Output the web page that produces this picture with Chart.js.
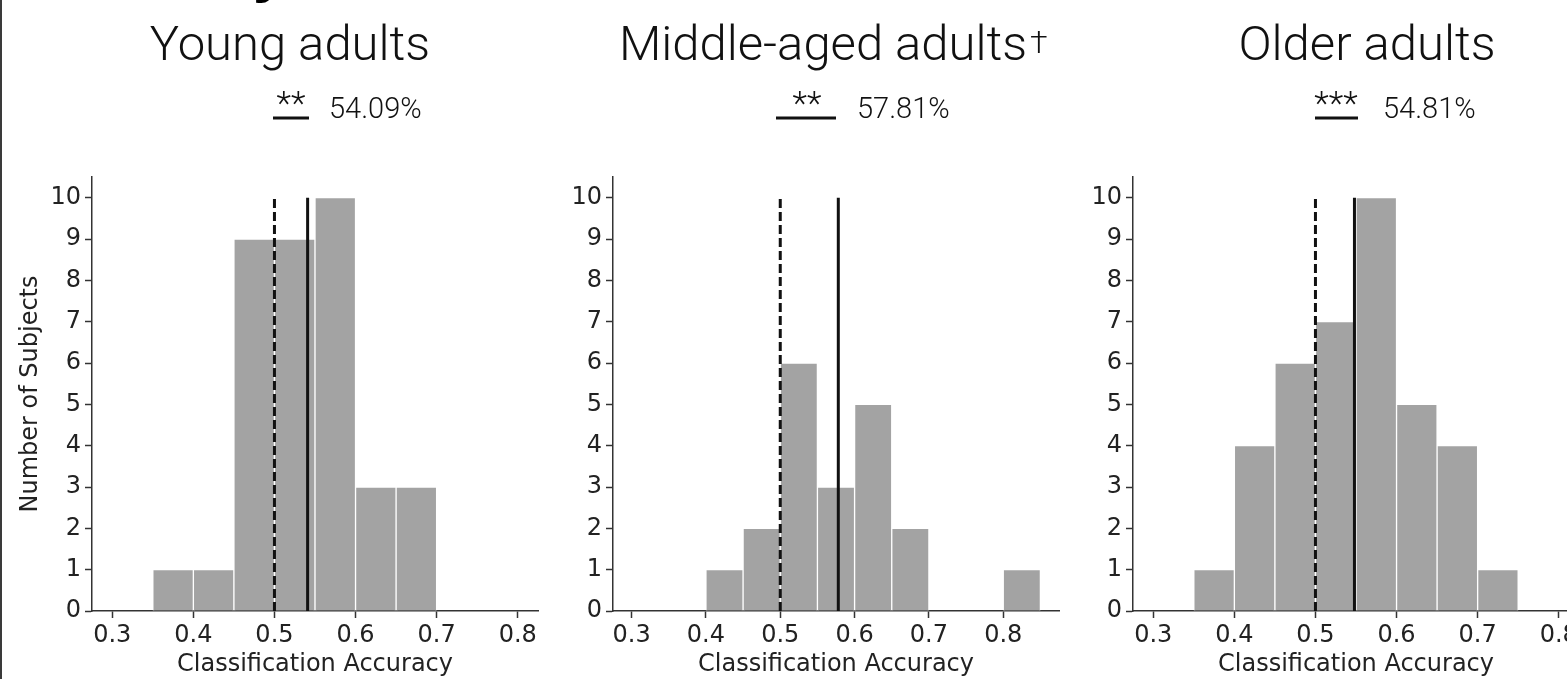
<!DOCTYPE html>
<html><head><meta charset="utf-8">
<script src="https://cdn.jsdelivr.net/npm/chart.js@4/dist/chart.umd.min.js"></script>
<style>
html,body{margin:0;padding:0;background:#fff;}
#wrap{position:relative;width:1567px;height:679px;overflow:hidden;background:#fff;}
#wrap canvas{position:absolute;top:0;}
#edge{position:absolute;left:0;top:0;width:2px;height:679px;background:#3a3a3a;}
</style></head><body>
<div id="wrap">
<canvas id="c1" width="560" height="679" style="left:0px"></canvas>
<canvas id="c2" width="560" height="679" style="left:521px"></canvas>
<canvas id="c3" width="560" height="679" style="left:1041px"></canvas>
<div id="edge"></div>
</div>
<script>
// ---- data ----
const binStarts = [0.30,0.35,0.40,0.45,0.50,0.55,0.60,0.65,0.70,0.75,0.80];
const binWidth = 0.05;
const youngCounts  = [0,1,1,9,9,10,3,3,0,0,0];
const middleCounts = [0,0,1,2,6,3,5,2,0,0,1];
const olderCounts  = [0,1,4,6,7,10,5,4,1,0,0];
const chanceLevel = 0.5;
const meanAccuracy = [0.5409, 0.5781, 0.5481];
const lineTop = 10;
const panelTitles = ['Young adults','Middle-aged adults','Older adults'];
const titleMarks = ['','\u2020',''];
const significance = ['**','**','***'];
const meanLabels = ['54.09%','57.81%','54.81%'];
const xTicks = [0.3,0.4,0.5,0.6,0.7,0.8];
const yTicks = [0,1,2,3,4,5,6,7,8,9,10];
const xMin = 0.275;
const xMaxes = [0.825, 0.875, 0.825];
const yMax = 10.5;
const xLabel = 'Classification Accuracy';
const yLabel = 'Number of Subjects';

// ---- layout (page coordinates) ----
const panels = [
  {canvas:'c1', left:0,    counts:youngCounts,  titleX:290,  starX:291,  lineX:[273,309],  pctX:329},
  {canvas:'c2', left:521,  counts:middleCounts, titleX:823,  starX:807,  lineX:[776,836],  pctX:857},
  {canvas:'c3', left:1041, counts:olderCounts,  titleX:1367, starX:1336, lineX:[1315,1358], pctX:1383}
];

const TICK_FONT = {family:'DejaVu Sans', size:24};
const TEXT = '#222';
const AXIS = '#333';

function makePlugin(i, p){
  return {
    id:'annot'+i,
    afterDraw(chart){
      const ctx = chart.ctx;
      const ox = p.left;
      ctx.save();
      ctx.fillStyle = '#111';
      ctx.textBaseline = 'alphabetic';
      // title
      ctx.font = '300 49px Roboto';
      ctx.textAlign = 'center';
      ctx.fillText(panelTitles[i], p.titleX - ox, 60);
      if (titleMarks[i]) {
        const w = ctx.measureText(panelTitles[i]).width;
        ctx.font = '300 32px Roboto';
        ctx.textAlign = 'left';
        ctx.fillText(titleMarks[i], p.titleX - ox + w/2 + 3, 53);
      }
      // significance stars
      ctx.font = '300 34px Roboto';
      ctx.textAlign = 'center';
      ctx.fillText(significance[i], p.starX - ox, 115);
      // line handle
      ctx.strokeStyle = '#111';
      ctx.lineWidth = 3;
      ctx.beginPath();
      ctx.moveTo(p.lineX[0]-ox, 118);
      ctx.lineTo(p.lineX[1]-ox, 118);
      ctx.stroke();
      // mean label
      ctx.textAlign = 'left';
      ctx.font = '300 29px Roboto';
      ctx.fillText(meanLabels[i], p.pctX - ox, 118);
      if (i === 0) {
        ctx.font = 'bold 60px "Liberation Sans"';
        ctx.fillStyle = '#000';
        ctx.fillText('y', 253, -9);
      }
      ctx.restore();
    }
  };
}

panels.forEach((p, i) => {
  const bars = binStarts.map((s, k) => ({x: s + binWidth/2, y: p.counts[k]}));
  new Chart(document.getElementById(p.canvas), {
    type: 'bar',
    data: {
      datasets: [
        {type:'line', data:[{x:chanceLevel,y:0},{x:chanceLevel,y:lineTop}], borderColor:'#111', borderWidth:3, borderDash:[9,4], pointRadius:0, order:0},
        {type:'line', data:[{x:meanAccuracy[i],y:0},{x:meanAccuracy[i],y:lineTop}], borderColor:'#111', borderWidth:3, pointRadius:0, order:0},
        {type:'bar', data:bars, backgroundColor:'#a3a3a3', borderColor:'#ffffff', borderWidth:1, borderSkipped:'bottom', barPercentage:1, categoryPercentage:1, order:1}
      ]
    },
    options: {
      responsive:false, animation:false, devicePixelRatio:1,
      layout:{padding:{top:177, right:22, left:0, bottom:0}},
      plugins:{legend:{display:false}, tooltip:{enabled:false}},
      scales:{
        x:{
          type:'linear', min:xMin, max:xMaxes[i], offset:false,
          grid:{display:true, drawOnChartArea:false, drawTicks:true, tickLength:7, tickWidth:1.5, tickColor:AXIS, offset:false},
          border:{display:true, color:AXIS, width:1.5},
          ticks:{font:TICK_FONT, color:TEXT, padding:3, maxRotation:0, autoSkip:false, callback:(v)=>Number(v).toFixed(1)},
          afterBuildTicks:(s)=>{ s.ticks = xTicks.map(v=>({value:v})); },
          afterFit:(s)=>{ s.height = 68; },
          title:{display:true, text:xLabel, font:TICK_FONT, color:TEXT, padding:{top:0,bottom:0}}
        },
        y:{
          min:0, max:yMax,
          grid:{display:true, drawOnChartArea:false, drawTicks:true, tickLength:7, tickWidth:1.5, tickColor:AXIS},
          border:{display:true, color:AXIS, width:1.5},
          ticks:{font:TICK_FONT, color:TEXT, padding:4},
          afterBuildTicks:(s)=>{ s.ticks = yTicks.map(v=>({value:v})); },
          afterFit:(s)=>{ s.width = 92; },
          title:{display:i===0, text:yLabel, font:TICK_FONT, color:TEXT, padding:{top:16,bottom:0}}
        }
      }
    },
    plugins:[makePlugin(i, p)]
  });
});
</script>
</body></html>
